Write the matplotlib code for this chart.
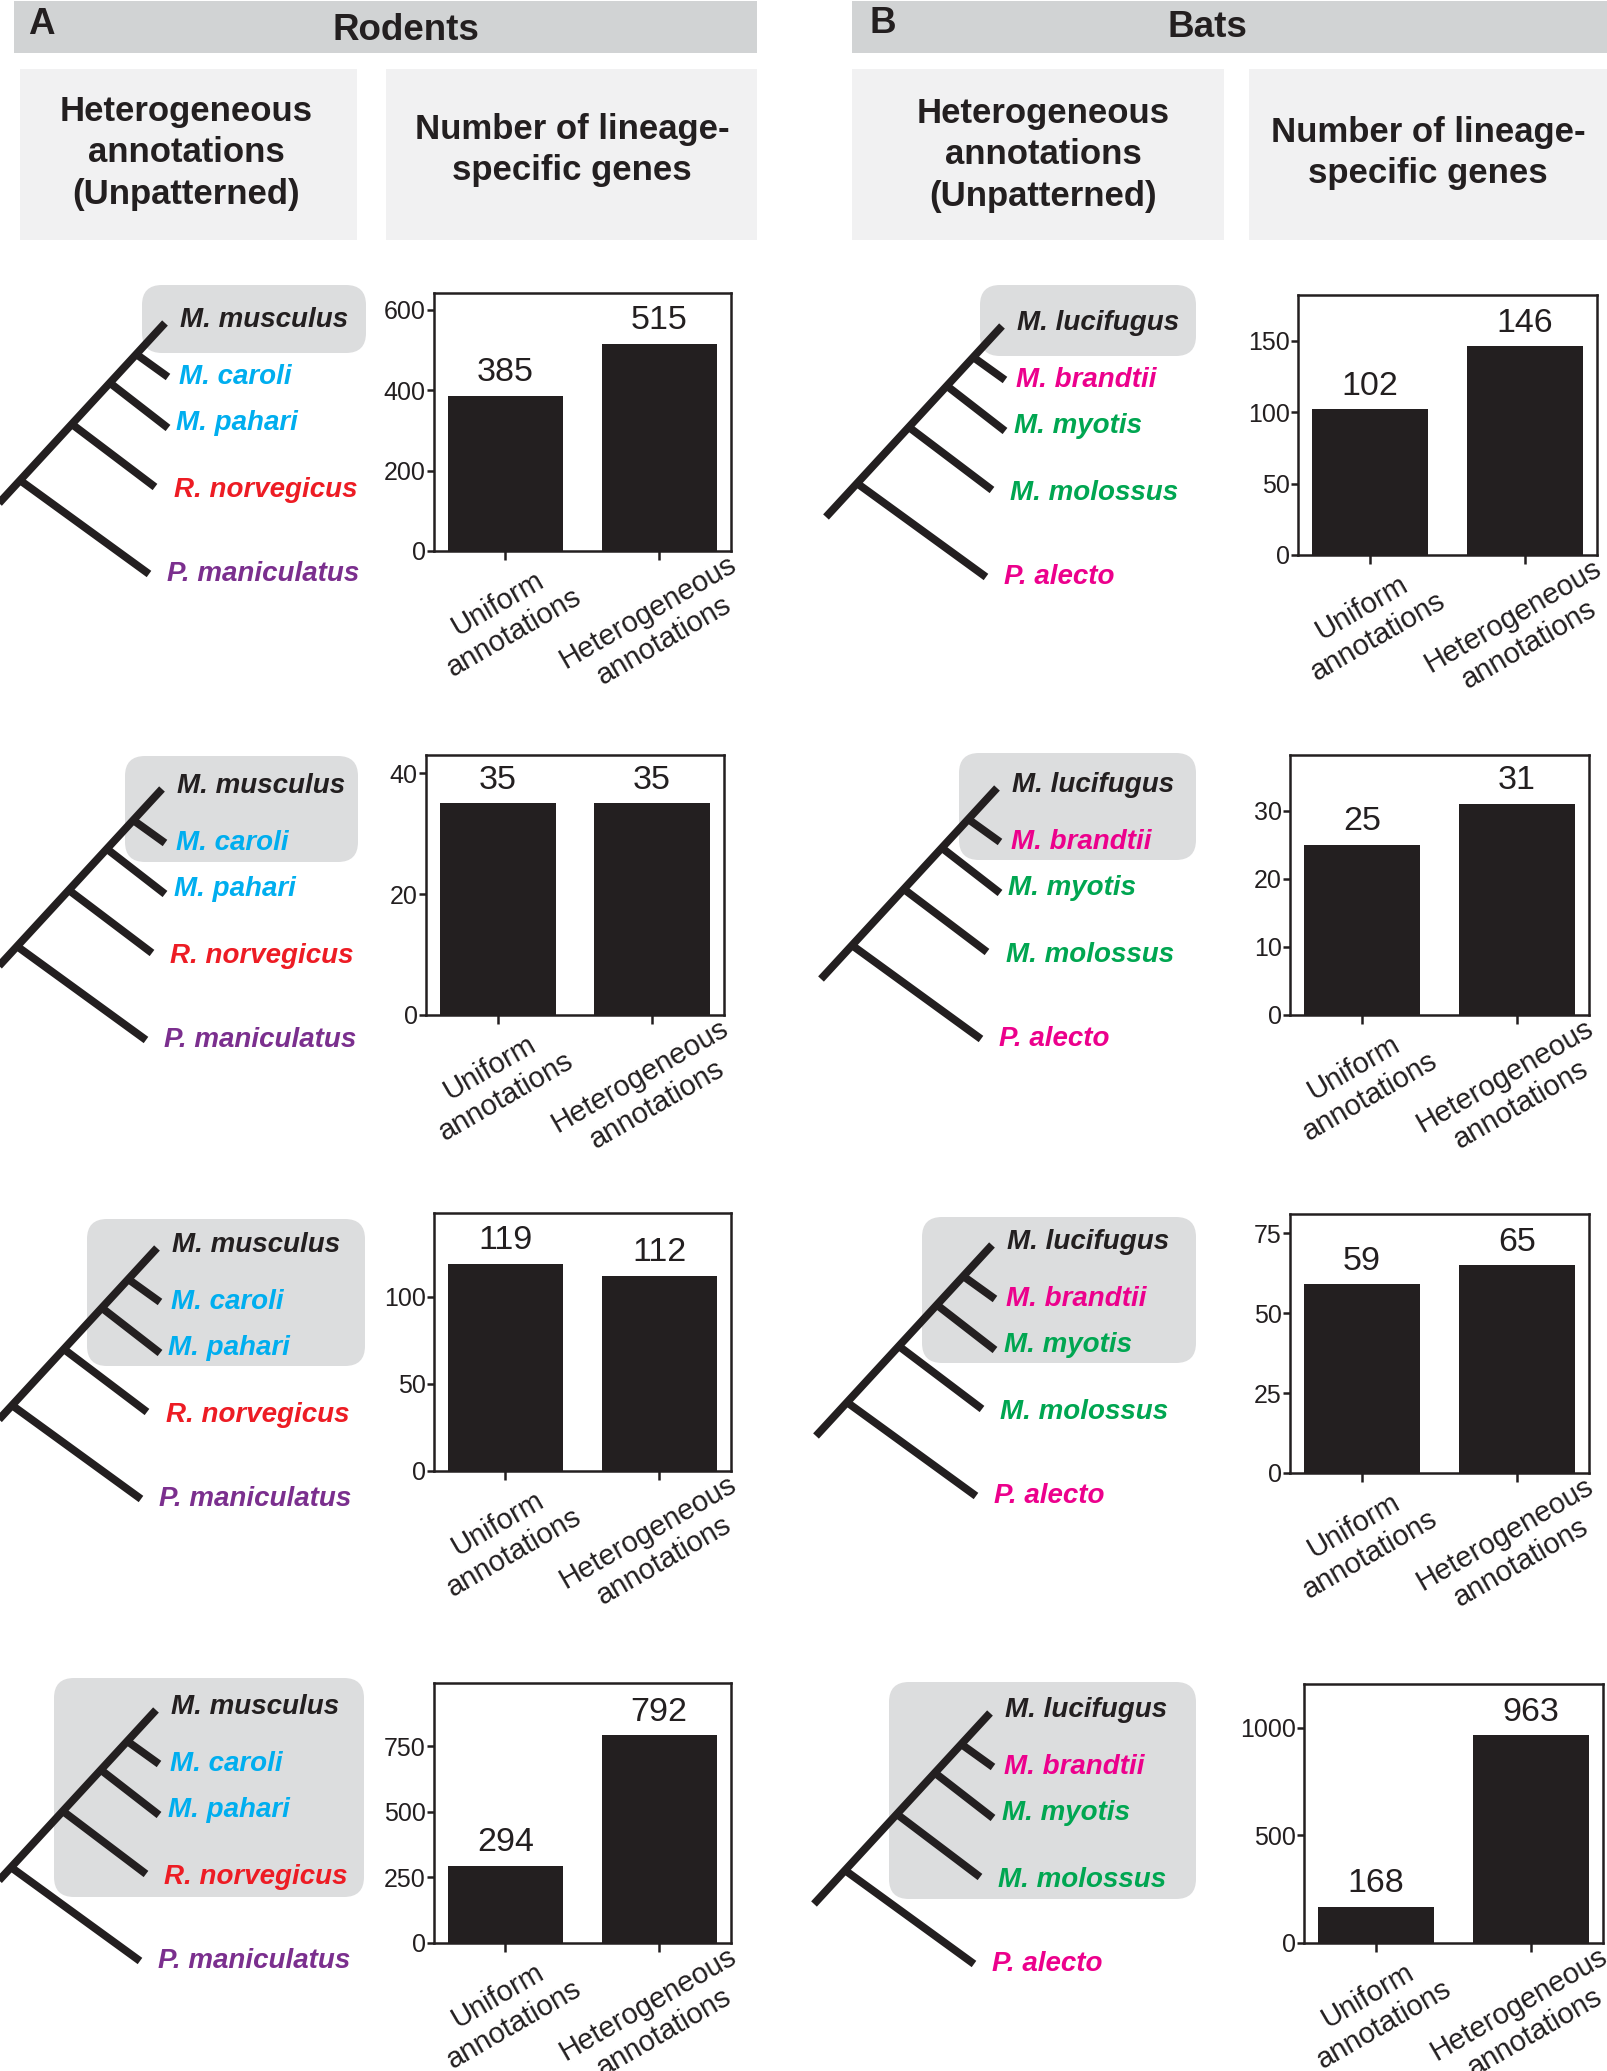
import matplotlib
matplotlib.use('Agg')
import matplotlib.pyplot as plt
from matplotlib.patches import Rectangle, FancyBboxPatch
from matplotlib.transforms import ScaledTranslation

plt.rcParams['font.family'] = ['Liberation Sans', 'DejaVu Sans']

# ---- data ----
categories = ['Uniform\nannotations', 'Heterogeneous\nannotations']

rodent_species = ['M. musculus', 'M. caroli', 'M. pahari', 'R. norvegicus', 'P. maniculatus']
rodent_colors = ['#231F20', '#00AEEF', '#00AEEF', '#ED1C24', '#7B2F8E']
rodent_counts = [[385, 515], [35, 35], [119, 112], [294, 792]]
rodent_yticks = [[0, 200, 400, 600], [0, 20, 40], [0, 50, 100], [0, 250, 500, 750]]

bat_species = ['M. lucifugus', 'M. brandtii', 'M. myotis', 'M. molossus', 'P. alecto']
bat_colors = ['#231F20', '#EC008C', '#00A651', '#00A651', '#EC008C']
bat_counts = [[102, 146], [25, 31], [59, 65], [168, 963]]
bat_yticks = [[0, 50, 100, 150], [0, 10, 20, 30], [0, 25, 50, 75], [0, 500, 1000]]

# ---- layout (pixels of the 1607x2071 canvas) ----
W, H = 1607, 2071
DARK = '#231F20'

# bar-chart axes: left, top, right, bottom, ymax
rodent_axes = [(434, 293, 731, 551, 641), (426, 755, 724, 1015, 43),
               (434, 1213, 731, 1471, 148), (434, 1683, 731, 1943, 992)]
bat_axes = [(1298, 295, 1597, 555, 182), (1290, 755, 1589, 1015, 38.2),
            (1290, 1214, 1589, 1473, 81), (1304, 1684, 1603, 1943, 1202)]

# tree anchors (left x / centre y of top species label)
rodent_anchor = [(180, 317), (177, 783), (172, 1242), (171, 1704)]
bat_anchor = [(1017, 320), (1012, 782), (1007, 1239), (1005, 1707)]

# grey highlight boxes: x0, y0, x1, y1
rodent_box = [(142, 285, 366, 353), (125, 756, 358, 862),
              (87, 1219, 365, 1366), (54, 1678, 364, 1897)]
bat_box = [(980, 285, 1196, 356), (959, 753, 1196, 860),
           (922, 1217, 1196, 1363), (889, 1682, 1196, 1899)]

# tree shape relative to anchor
trunk = [(-191, 197), (-15, 6)]
branches = [[(-44, 37), (-12, 60)], [(-70, 66), (-12, 111)],
            [(-107, 108), (-25, 170)], [(-159, 164), (-31, 257)]]
label_off = [(0, 0), (-1, 57), (-3.5, 103), (-6.5, 170), (-13, 254)]

fig = plt.figure(figsize=(W / 100, H / 100), dpi=100)
bg = fig.add_axes([0, 0, 1, 1])
bg.set_xlim(0, W)
bg.set_ylim(H, 0)
bg.axis('off')

# headers
bg.add_patch(Rectangle((14, 1), 743, 52, color='#D1D3D4', lw=0))
bg.add_patch(Rectangle((852, 1), 755, 52, color='#D1D3D4', lw=0))
for x0, w in [(20, 337), (386, 371), (852, 372), (1249, 358)]:
    bg.add_patch(Rectangle((x0, 69), w, 171, color='#F1F1F2', lw=0))

hdr = dict(fontsize=26.5, fontweight='bold', color=DARK, va='baseline')
bg.text(28, 34, 'A', ha='left', **hdr)
bg.text(406, 40, 'Rodents', ha='center', **hdr)
bg.text(870, 33, 'B', ha='left', **hdr)
bg.text(1207, 37, 'Bats', ha='center', **hdr)

sub = dict(fontsize=25, fontweight='bold', color=DARK, ha='center', va='center',
           linespacing=1.32)
bg.text(186, 153, 'Heterogeneous\nannotations\n(Unpatterned)', **sub)
bg.text(572, 150, 'Number of lineage-\nspecific genes', **sub)
bg.text(1043, 155, 'Heterogeneous\nannotations\n(Unpatterned)', **sub)
bg.text(1428, 153, 'Number of lineage-\nspecific genes', **sub)


def draw_tree(anchor, box, names, colors):
    ax0, ay0 = anchor
    x0, y0, x1, y1 = box
    bg.add_patch(FancyBboxPatch((x0, y0), x1 - x0, y1 - y0,
                                boxstyle='round,pad=0,rounding_size=20',
                                color='#DCDDDE', lw=0, zorder=1))
    segs = [trunk] + branches
    for (p, q) in segs:
        bg.plot([ax0 + p[0], ax0 + q[0]], [ay0 + p[1], ay0 + q[1]],
                color=DARK, lw=5.6, solid_capstyle='butt', zorder=2)
    for name, col, (dx, dy) in zip(names, colors, label_off):
        bg.text(ax0 + dx, ay0 + dy + 10, name, color=col, fontsize=20,
                fontweight='bold', fontstyle='italic', ha='left', va='baseline',
                zorder=3)


def draw_bars(rect, counts, yticks):
    left, top, right, bottom, ymax = rect
    ax = fig.add_axes([left / W, 1 - bottom / H, (right - left) / W, (bottom - top) / H])
    ax.bar([0, 1], counts, width=0.75, color=DARK)
    ax.set_xlim(-0.465, 1.467)
    ax.set_ylim(0, ymax)
    for s in ax.spines.values():
        s.set_linewidth(1.8)
        s.set_color(DARK)
    ax.set_yticks(yticks)
    ax.set_xticks([0, 1], labels=categories)
    ax.tick_params(axis='y', length=5, width=1.8, pad=1, labelsize=18, colors=DARK)
    ax.tick_params(axis='x', length=6.5, width=1.8, pad=0, labelsize=21, colors=DARK)
    shifts = [(0.0, -0.58), (-0.035, -0.66)]
    for lab, (dx, dy) in zip(ax.get_xticklabels(), shifts):
        lab.set_rotation(30)
        lab.set_ha('center')
        lab.set_va('center')
        lab.set_rotation_mode('anchor')
        lab.set_transform(lab.get_transform() + ScaledTranslation(dx, dy, fig.dpi_scale_trans))
    for i, v in enumerate(counts):
        ax.annotate(str(v), (i, v), xytext=(0, 10.5), textcoords='offset points',
                    ha='center', va='baseline', fontsize=24.5, color=DARK)


for i in range(4):
    draw_tree(rodent_anchor[i], rodent_box[i], rodent_species, rodent_colors)
    draw_tree(bat_anchor[i], bat_box[i], bat_species, bat_colors)
    draw_bars(rodent_axes[i], rodent_counts[i], rodent_yticks[i])
    draw_bars(bat_axes[i], bat_counts[i], bat_yticks[i])

fig.savefig('out.png', dpi=100)
